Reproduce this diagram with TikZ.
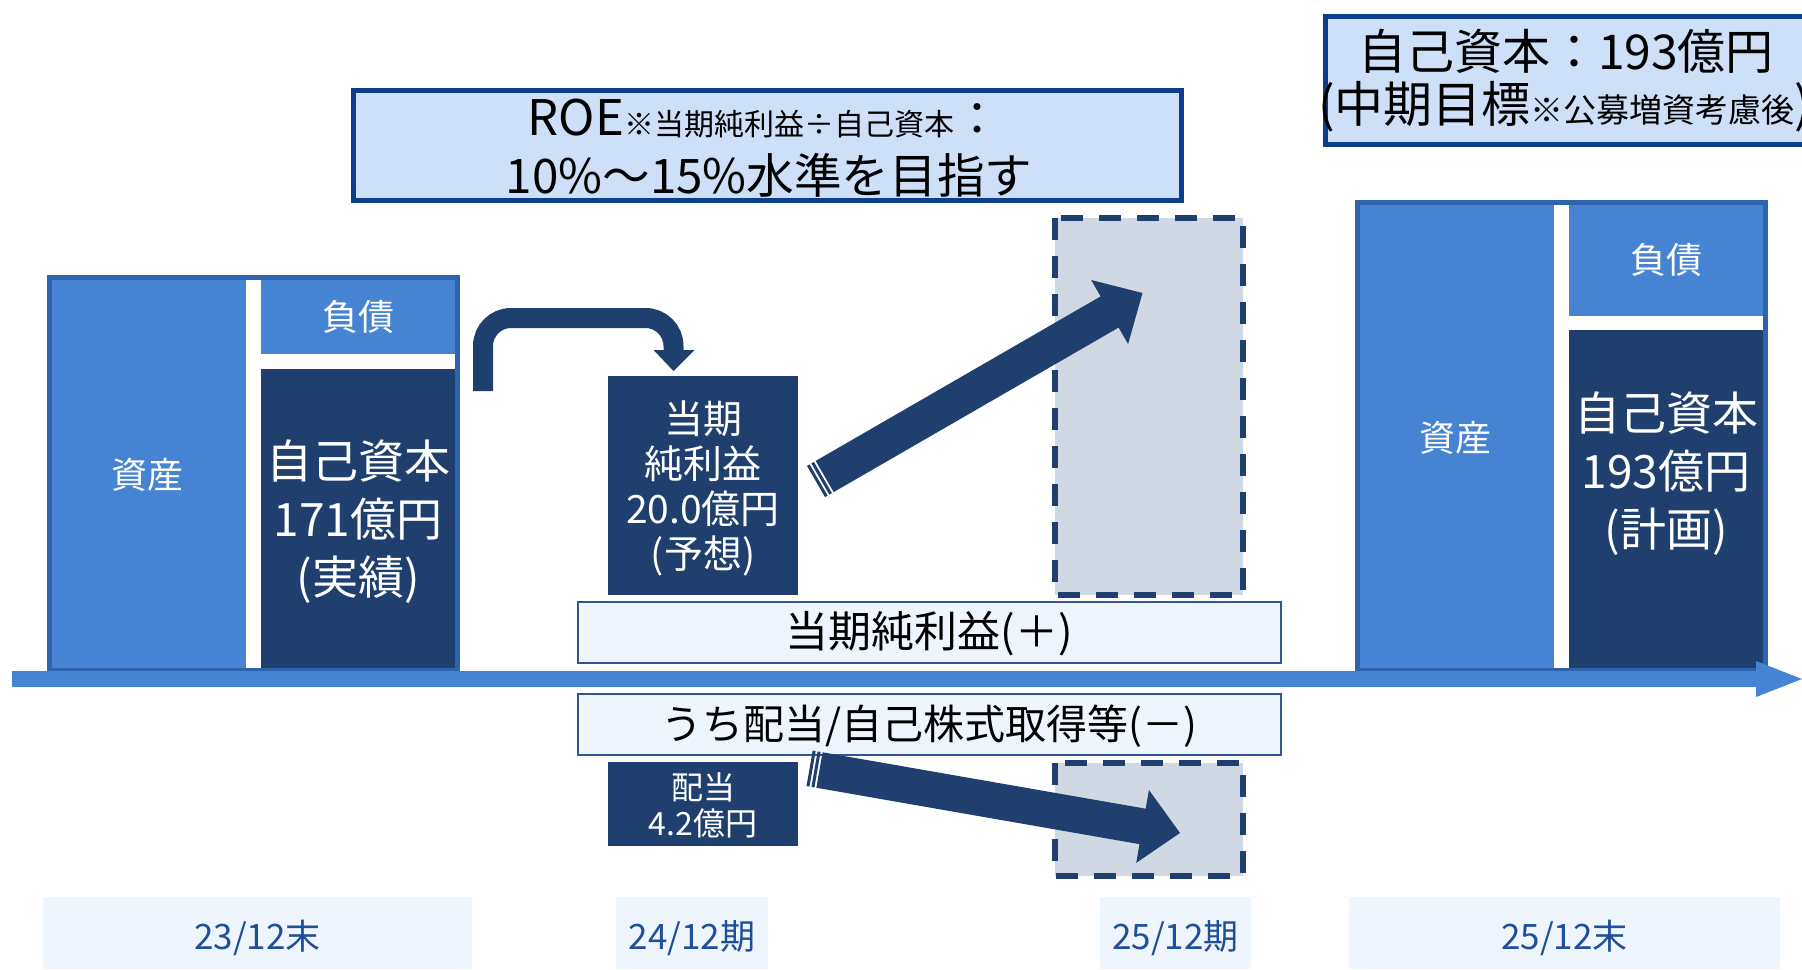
\documentclass[tikz,border=0pt]{standalone}
\usepackage{fontspec}
\setmainfont{Noto Sans CJK JP}
\definecolor{midblue}{RGB}{70,131,211}
\definecolor{bsborder}{RGB}{46,100,174}
\definecolor{navy}{RGB}{31,64,110}
\definecolor{roefill}{RGB}{205,224,248}
\definecolor{roeborder}{RGB}{12,62,140}
\definecolor{paleblue}{RGB}{239,245,253}
\definecolor{paleborder}{RGB}{47,85,151}
\definecolor{dashfill}{RGB}{208,217,227}
\definecolor{labelblue}{RGB}{31,78,154}
\newcommand\stripedarrow[3]{%
  \begin{scope}[shift={#1},rotate=#2]
    \fill[navy] (0,-18) rectangle (3,18);
    \fill[navy] (5,-18) rectangle (8,18);
    \fill[navy] (10,-18) -- (#3-38,-18) -- (#3-38,-37) -- (#3,0) -- (#3-38,37) -- (#3-38,18) -- (10,18) -- cycle;
  \end{scope}}
\begin{document}
\begin{tikzpicture}[x=0.5pt,y=-0.5pt,
  wtxt/.style={text=white,inner sep=0pt,align=center},
  btxt/.style={text=black,inner sep=0pt,align=center},
  bsbig/.style={font=\fontsize{23}{29}\selectfont},
  bssmall/.style={font=\fontsize{18}{22}\selectfont},
  midtxt/.style={font=\fontsize{19.5}{22.5}\selectfont},
  dashbox/.style={fill=dashfill,draw=navy,line width=2.8pt,dash pattern=on 11pt off 8pt},
  palebox/.style={fill=paleblue,draw=paleborder,line width=1.2pt},
  lbox/.style={fill=paleblue},
  ltxt/.style={text=labelblue,inner sep=0pt,font=\fontsize{17.5}{20}\selectfont}]
\useasboundingbox (0,0) rectangle (1802,969);
\clip (0,0) rectangle (1802,969);
\fill[white] (0,0) rectangle (1802,969);

% bottom label boxes
\fill[lbox] (43,897) rectangle (472,969);
\fill[lbox] (616,897) rectangle (768,969);
\fill[lbox] (1100,897) rectangle (1251,969);
\fill[lbox] (1349,897) rectangle (1780,969);
\node[ltxt] (l1) at (257.5,938) {23/12末};
\node[ltxt] (l2) at (692,938) {24/12期};
\node[ltxt] (l3) at (1175.5,938) {25/12期};
\node[ltxt] (l4) at (1564.5,938) {25/12末};

% left balance sheet
\fill[bsborder] (47,275) rectangle (460,673);
\fill[midblue] (52,280) rectangle (455,668);
\fill[white] (246,280) rectangle (261,668);
\fill[white] (261,354) rectangle (455,369);
\fill[navy] (261,369) rectangle (455,668);
\node[wtxt,bssmall] (la) at (147,475) {資産};
\node[wtxt,bssmall] (ll) at (358,317) {負債};
\node[wtxt,bsbig] (le) at (358,522) {自己資本\\171億円\\(実績)};

% right balance sheet
\fill[bsborder] (1355,200) rectangle (1768,673);
\fill[midblue] (1360,205) rectangle (1763,668);
\fill[white] (1554,205) rectangle (1569,668);
\fill[white] (1569,316) rectangle (1763,330);
\fill[navy] (1569,330) rectangle (1763,668);
\node[wtxt,bssmall] (ra) at (1455,438) {資産};
\node[wtxt,bssmall] (rl) at (1666,260) {負債};
\node[wtxt,bsbig] (re) at (1666,474) {自己資本\\193億円\\(計画)};

% axis
\fill[midblue] (12,671) rectangle (1757,687);
\fill[midblue] (1756,661) -- (1802,679) -- (1756,697) -- cycle;

% bent arrow
\coordinate (bstart) at (483,391);
\coordinate (bend) at (673.5,351);
\draw[navy,line width=10pt,rounded corners=14pt] (bstart) -- (483,318) -- (673.5,318) -- (bend);
\fill[navy] (653.5,350) -- (694.5,350) -- (673.5,371) -- cycle;

% net income box
\node[fill=navy,minimum width=95pt,minimum height=109.5pt,inner sep=0pt] (ni) at (703,485.5) {};
\node[wtxt,midtxt] (nit) at (703,488) {当期\\純利益\\20.0億円\\(予想)};

% dashed boxes
\draw[dashbox] (1055,218) rectangle (1243,595);
\draw[dashbox] (1055,763) rectangle (1243,876);

% pale boxes
\node[palebox,minimum width=351.5pt,minimum height=30.5pt,inner sep=0pt] (plus) at (929.5,632.5) {};
\node[btxt,font=\fontsize{21.5}{24}\selectfont] (plust) at (929.5,634) {当期純利益(＋)};
\node[palebox,minimum width=351.5pt,minimum height=30.5pt,inner sep=0pt] (minus) at (929.5,724.5) {};
\node[btxt,font=\fontsize{20.5}{24}\selectfont] (minust) at (929.5,726) {うち配当/自己株式取得等(－)};

% dividend box
\node[fill=navy,minimum width=95pt,minimum height=42pt,inner sep=0pt] (dv) at (703,804) {};
\node[wtxt,font=\fontsize{16}{18}\selectfont] (dvt) at (703,805) {配当\\4.2億円};

% striped arrows
\coordinate (upt) at (816,481.5);
\coordinate (dnt) at (809.6,768.3);
\stripedarrow{(upt)}{30}{377}
\stripedarrow{(dnt)}{-9.9}{376}

% ROE box
\node[fill=roefill,draw=roeborder,line width=2.5pt,minimum width=414pt,minimum height=55pt,inner sep=0pt] (roe) at (767,145.5) {};
\node[btxt] (roet1) at (764,118) {\fontsize{24.5}{27}\selectfont ROE\fontsize{15}{18}\selectfont ※当期純利益÷自己資本\fontsize{23}{27}\selectfont ：};
\node[btxt,font=\fontsize{23.8}{27}\selectfont] (roet2) at (769,175) {10\%～15\%水準を目指す};

% target title box
\node[fill=roefill,draw=roeborder,line width=2.5pt,minimum width=260pt,minimum height=64pt,inner sep=0pt,anchor=north west] (tt) at (1323,14) {};
\node[btxt,font=\fontsize{24}{27}\selectfont] (tt1) at (1566,51) {自己資本：193億円};
\node[btxt,anchor=west] (tt2) at (1318,107) {\fontsize{24.5}{27}\selectfont (中期目標\fontsize{16.5}{18}\selectfont ※公募増資考慮後\fontsize{24.5}{27}\selectfont )};
\end{tikzpicture}
\end{document}
